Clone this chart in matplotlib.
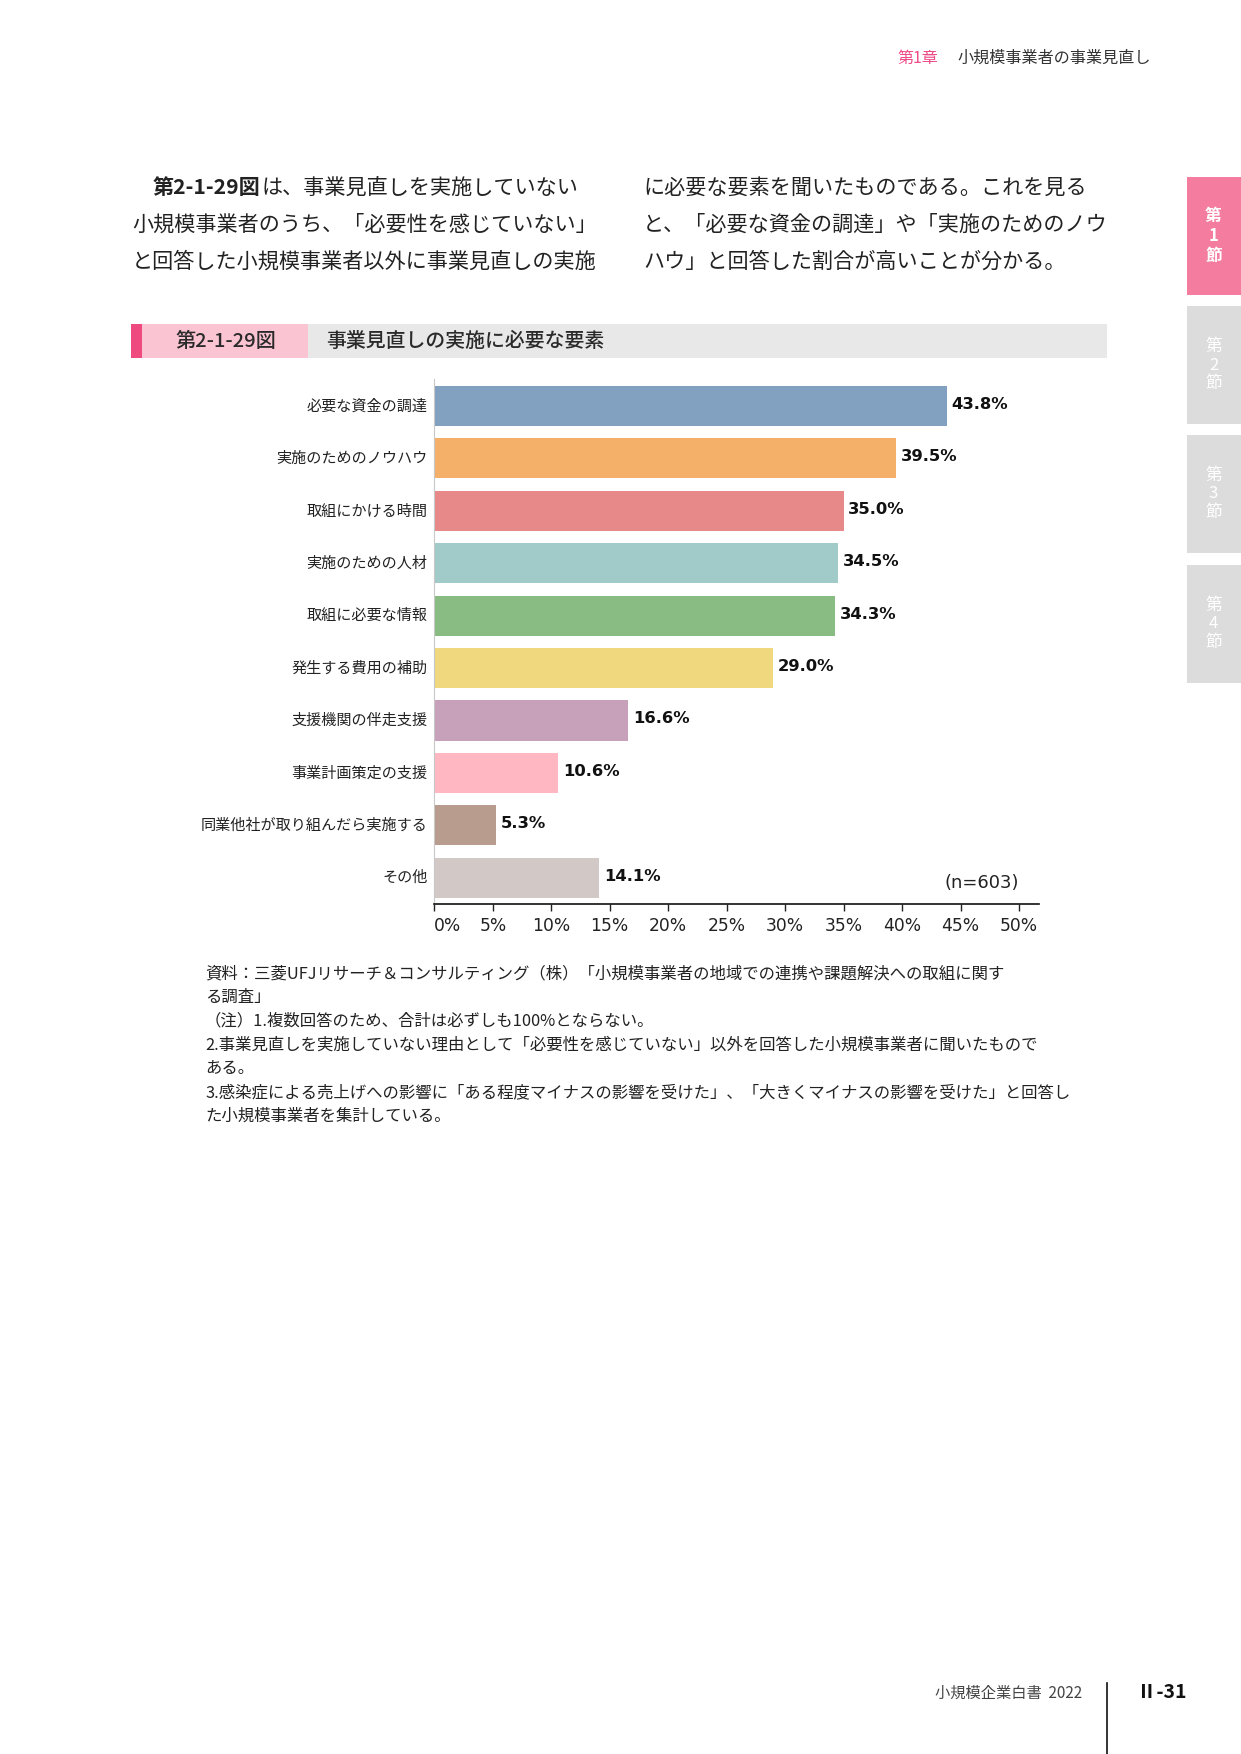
import matplotlib
matplotlib.use("Agg")
import matplotlib.pyplot as plt
import matplotlib.transforms as mtransforms
from matplotlib.patches import Rectangle
from matplotlib.lines import Line2D

plt.rcParams['font.family'] = ['Noto Sans CJK JP', 'DejaVu Sans']

# ---------------- data ----------------
categories = ["必要な資金の調達", "実施のためのノウハウ", "取組にかける時間", "実施のための人材",
              "取組に必要な情報", "発生する費用の補助", "支援機関の伴走支援", "事業計画策定の支援",
              "同業他社が取り組んだら実施する", "その他"]
values = [43.8, 39.5, 35.0, 34.5, 34.3, 29.0, 16.6, 10.6, 5.3, 14.1]
bar_colors = ["#82A1C0", "#F4AF69", "#E88989", "#A0CBC8", "#89BC82",
              "#F0D87E", "#C7A0BA", "#FFB8C2", "#B89C8E", "#D2C8C5"]
xticks = [0, 5, 10, 15, 20, 25, 30, 35, 40, 45, 50]
xtick_labels = ["0%", "5%", "10%", "15%", "20%", "25%", "30%", "35%", "40%", "45%", "50%"]
n_label = "(n=603)"

header_chapter = "第1章"
header_title = "小規模事業者の事業見直し"
body_left = ["は、事業見直しを実施していない",
             "小規模事業者のうち、「必要性を感じていない」",
             "と回答した小規模事業者以外に事業見直しの実施"]
body_left_lead = "第2-1-29図"
body_right = ["に必要な要素を聞いたものである。これを見る",
              "と、「必要な資金の調達」や「実施のためのノウ",
              "ハウ」と回答した割合が高いことが分かる。"]
fig_number = "第2-1-29図"
fig_title = "事業見直しの実施に必要な要素"
notes = ["資料：三菱UFJリサーチ＆コンサルティング（株）「小規模事業者の地域での連携や課題解決への取組に関す",
         "る調査」",
         "（注）1.複数回答のため、合計は必ずしも100%とならない。",
         "2.事業見直しを実施していない理由として「必要性を感じていない」以外を回答した小規模事業者に聞いたもので",
         "ある。",
         "3.感染症による売上げへの影響に「ある程度マイナスの影響を受けた」、「大きくマイナスの影響を受けた」と回答し",
         "た小規模事業者を集計している。"]
tabs = ["第\n1\n節", "第\n2\n節", "第\n3\n節", "第\n4\n節"]
footer_book = "小規模企業白書  2022"
footer_page = "Ⅱ-31"

# ---------------- figure ----------------
W, H = 1241, 1754
fig = plt.figure(figsize=(W / 100, H / 100), dpi=100)
fig.patch.set_facecolor("white")


def fx(x):
    return x / W


def fy(y):
    return 1 - y / H


def rect(x0, y0, x1, y1, color):
    fig.patches.append(Rectangle((fx(x0), fy(y1)), fx(x1) - fx(x0), (y1 - y0) / H,
                                 transform=fig.transFigure, facecolor=color,
                                 edgecolor="none", zorder=0))


def txt(x, y, s, **kw):
    kw.setdefault("va", "center")
    return fig.text(fx(x), fy(y), s, **kw)


# header
txt(897, 58, header_chapter, fontsize=11.5, color="#EE4C86")
txt(957, 58, header_title, fontsize=11.6, color="#333333")

# body text
renderer = fig.canvas.get_renderer()
body_fs = 15.2
lead = txt(153, 188, body_left_lead, fontsize=body_fs, color="#222222", fontweight="bold")
bb = lead.get_window_extent(renderer=renderer)
txt(bb.x1 + 1, 188, body_left[0], fontsize=body_fs, color="#222222")
txt(132, 225, body_left[1], fontsize=body_fs, color="#222222")
txt(132, 262, body_left[2], fontsize=body_fs, color="#222222")
for i, line in enumerate(body_right):
    txt(643, 188 + 37 * i, line, fontsize=body_fs, color="#222222")

# right side tabs
tab_tops = [177, 306, 435, 565]
for i, (t, top) in enumerate(zip(tabs, tab_tops)):
    rect(1187, top, 1241, top + 118, "#F47D9F" if i == 0 else "#DCDCDC")
    txt(1213.5, top + 59, t, fontsize=12, color="white", ha="center",
        linespacing=1.15, fontweight="bold" if i == 0 else "normal")

# figure title bar
rect(131, 324, 142, 358, "#EE4A80")
rect(142, 324, 308, 358, "#FBC4D2")
rect(308, 324, 1107, 358, "#E8E8E8")
txt(226, 341, fig_number, fontsize=14.5, color="#2A2A2A", ha="center", fontweight=500)
txt(326, 341, fig_title, fontsize=14.3, color="#2A2A2A", fontweight=500)

# ---------------- chart ----------------
ax = fig.add_axes([fx(434.3), fy(904), (1039 - 434.3) / W, (904 - 379) / H])
ypos = list(range(len(categories)))
ax.barh(ypos, values, height=0.765, color=bar_colors, zorder=2)
ax.set_xlim(0, 51.7)
ax.set_ylim(9.5, -0.515)
ax.set_yticks(ypos)
ax.set_yticklabels(categories, fontsize=10.9, color="#222222")
shift_up = mtransforms.ScaledTranslation(0, 2.2 / 72, fig.dpi_scale_trans)
for lbl in ax.get_yticklabels():
    lbl.set_verticalalignment("center")
    lbl.set_transform(lbl.get_transform() + shift_up)
ax.tick_params(axis="y", length=0, pad=5)
ax.set_xticks(xticks)
ax.set_xticklabels(xtick_labels, fontsize=12.3, family="DejaVu Sans", color="#222222")
ax.tick_params(axis="x", direction="out", length=5, width=1, color="#222222", pad=4.5)
xl = ax.get_xticklabels()
xl[0].set_horizontalalignment("left")
for s in ["top", "right"]:
    ax.spines[s].set_visible(False)
ax.spines["left"].set_color("#C8C8C8")
ax.spines["left"].set_linewidth(0.8)
ax.spines["bottom"].set_color("#111111")
ax.spines["bottom"].set_linewidth(1.2)
for y, v in zip(ypos, values):
    ax.text(v + 0.4, y - 0.03, f"{v:.1f}%", va="center", ha="left", fontsize=11.8,
            fontweight="bold", family="DejaVu Sans", color="#111111")
txt(982, 883, n_label, fontsize=13, color="#222222", ha="center", family="DejaVu Sans")

# notes
note_y0, note_dy = 974, 23.7
for i, line in enumerate(notes):
    txt(205, note_y0 + note_dy * i, line, fontsize=11.8, color="#222222")

# footer
txt(935, 1693, footer_book, fontsize=11, color="#444444")
fig.lines.append(Line2D([fx(1107), fx(1107)], [fy(1683), fy(1754)],
                        transform=fig.transFigure, color="#111111", lw=1.2))
txt(1137, 1693, footer_page, fontsize=14, color="#111111", fontweight="bold")

fig.savefig("out.png", dpi=100, facecolor="white")
